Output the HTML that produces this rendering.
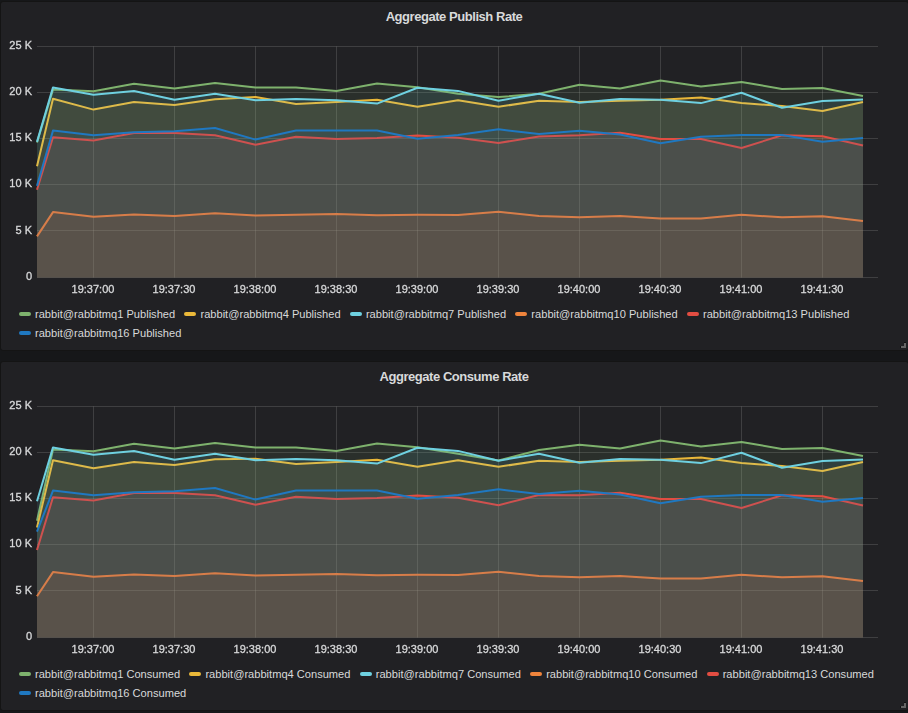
<!DOCTYPE html>
<html><head><meta charset="utf-8"><style>
html,body{margin:0;padding:0;background:#161719;width:908px;height:713px;overflow:hidden;font-family:"Liberation Sans",sans-serif;}
.panel{position:absolute;left:0;width:909px;height:350px;box-sizing:border-box;border:1px solid #141414;background:#212124;border-radius:3px;}
.title{position:absolute;left:0;width:908px;text-align:center;font:bold 13px "Liberation Sans",sans-serif;letter-spacing:-0.45px;color:#d8d9da;}
.yl{will-change:transform;-webkit-text-stroke:0.3px #d8d9da;position:absolute;left:0;width:32px;text-align:right;font-size:11px;line-height:14px;color:#d8d9da;white-space:nowrap;}
.xl{will-change:transform;-webkit-text-stroke:0.3px #d8d9da;position:absolute;width:60px;text-align:center;font-size:11px;line-height:14px;color:#d8d9da;}
.leg{position:absolute;left:19px;font-size:11.1px;line-height:16px;color:#d8d9da;white-space:nowrap;}
.li{display:inline-block;margin-right:9.3px;}
.li i{display:inline-block;width:12px;height:4px;border-radius:2px;margin-right:4px;vertical-align:middle;position:relative;top:-1px;}
.hd{position:absolute;left:901px;width:5px;height:5px;}
svg{position:absolute;left:0;top:0;}
</style></head><body>
<div class="panel" style="top:1px"></div>
<div class="panel" style="top:361px"></div>
<div class="title" style="top:9px">Aggregate Publish Rate</div>
<div class="title" style="top:369px">Aggregate Consume Rate</div>
<svg width="908" height="713" viewBox="0 0 908 713">
<path d="M37 46.5H878 M37 92.5H878 M37 138.5H878 M37 184.5H878 M37 230.5H878 M37 277.5H878 M93.5 46.5V277.5 M174.5 46.5V277.5 M255.5 46.5V277.5 M336.5 46.5V277.5 M417.5 46.5V277.5 M498.5 46.5V277.5 M579.5 46.5V277.5 M660.5 46.5V277.5 M741.5 46.5V277.5 M822.5 46.5V277.5" stroke="rgba(200,200,200,0.18)" stroke-width="1" fill="none"/>
<path d="M37,277.5 L37.0,142.5 53.0,89.6 93.5,91.3 134.0,83.8 174.5,88.5 215.0,82.9 255.5,87.4 296.0,87.4 336.5,90.9 377.0,83.4 417.5,87.2 458.0,93.7 498.5,97.1 539.0,93.7 579.5,84.7 620.0,88.5 660.5,80.6 701.0,86.6 741.5,81.9 782.0,89.0 822.5,88.1 863.0,96.1 L863.0,277.5 Z" fill="#7EB26D" fill-opacity="0.1"/>
<polyline points="37.0,142.5 53.0,89.6 93.5,91.3 134.0,83.8 174.5,88.5 215.0,82.9 255.5,87.4 296.0,87.4 336.5,90.9 377.0,83.4 417.5,87.2 458.0,93.7 498.5,97.1 539.0,93.7 579.5,84.7 620.0,88.5 660.5,80.6 701.0,86.6 741.5,81.9 782.0,89.0 822.5,88.1 863.0,96.1" fill="none" stroke="#7EB26D" stroke-width="2" stroke-linejoin="round"/>
<path d="M37,277.5 L37.0,166.2 53.0,98.8 93.5,109.6 134.0,102.1 174.5,105.0 215.0,99.3 255.5,96.9 296.0,104.0 336.5,102.1 377.0,99.7 417.5,106.8 458.0,100.3 498.5,106.8 539.0,100.7 579.5,102.1 620.0,100.8 660.5,99.7 701.0,97.5 741.5,103.1 782.0,105.9 822.5,110.9 863.0,101.9 L863.0,277.5 Z" fill="#EAB839" fill-opacity="0.1"/>
<polyline points="37.0,166.2 53.0,98.8 93.5,109.6 134.0,102.1 174.5,105.0 215.0,99.3 255.5,96.9 296.0,104.0 336.5,102.1 377.0,99.7 417.5,106.8 458.0,100.3 498.5,106.8 539.0,100.7 579.5,102.1 620.0,100.8 660.5,99.7 701.0,97.5 741.5,103.1 782.0,105.9 822.5,110.9 863.0,101.9" fill="none" stroke="#EAB839" stroke-width="2" stroke-linejoin="round"/>
<path d="M37,277.5 L37.0,141.9 53.0,87.4 93.5,94.7 134.0,90.9 174.5,99.7 215.0,93.7 255.5,100.3 296.0,99.0 336.5,100.3 377.0,103.6 417.5,87.7 458.0,90.9 498.5,100.7 539.0,93.7 579.5,102.7 620.0,99.0 660.5,99.7 701.0,103.1 741.5,92.8 782.0,107.8 822.5,101.0 863.0,99.5 L863.0,277.5 Z" fill="#6ED0E0" fill-opacity="0.1"/>
<polyline points="37.0,141.9 53.0,87.4 93.5,94.7 134.0,90.9 174.5,99.7 215.0,93.7 255.5,100.3 296.0,99.0 336.5,100.3 377.0,103.6 417.5,87.7 458.0,90.9 498.5,100.7 539.0,93.7 579.5,102.7 620.0,99.0 660.5,99.7 701.0,103.1 741.5,92.8 782.0,107.8 822.5,101.0 863.0,99.5" fill="none" stroke="#6ED0E0" stroke-width="2" stroke-linejoin="round"/>
<path d="M37,277.5 L37.0,236.4 53.0,212.1 93.5,216.7 134.0,214.5 174.5,215.9 215.0,213.2 255.5,215.6 296.0,214.8 336.5,213.9 377.0,215.2 417.5,214.8 458.0,215.0 498.5,211.7 539.0,215.9 579.5,217.2 620.0,216.1 660.5,218.5 701.0,218.5 741.5,214.8 782.0,217.2 822.5,216.3 863.0,221.1 L863.0,277.5 Z" fill="#EF843C" fill-opacity="0.1"/>
<polyline points="37.0,236.4 53.0,212.1 93.5,216.7 134.0,214.5 174.5,215.9 215.0,213.2 255.5,215.6 296.0,214.8 336.5,213.9 377.0,215.2 417.5,214.8 458.0,215.0 498.5,211.7 539.0,215.9 579.5,217.2 620.0,216.1 660.5,218.5 701.0,218.5 741.5,214.8 782.0,217.2 822.5,216.3 863.0,221.1" fill="none" stroke="#EF843C" stroke-width="2" stroke-linejoin="round"/>
<path d="M37,277.5 L37.0,189.8 53.0,137.3 93.5,140.5 134.0,133.0 174.5,133.0 215.0,135.3 255.5,144.8 296.0,136.8 336.5,139.0 377.0,138.1 417.5,135.5 458.0,137.7 498.5,143.0 539.0,136.4 579.5,135.3 620.0,132.7 660.5,139.0 701.0,139.0 741.5,148.0 782.0,135.3 822.5,136.2 863.0,145.5 L863.0,277.5 Z" fill="#E24D42" fill-opacity="0.1"/>
<polyline points="37.0,189.8 53.0,137.3 93.5,140.5 134.0,133.0 174.5,133.0 215.0,135.3 255.5,144.8 296.0,136.8 336.5,139.0 377.0,138.1 417.5,135.5 458.0,137.7 498.5,143.0 539.0,136.4 579.5,135.3 620.0,132.7 660.5,139.0 701.0,139.0 741.5,148.0 782.0,135.3 822.5,136.2 863.0,145.5" fill="none" stroke="#E24D42" stroke-width="2" stroke-linejoin="round"/>
<path d="M37,277.5 L37.0,185.9 53.0,130.6 93.5,135.3 134.0,132.3 174.5,131.2 215.0,128.0 255.5,139.6 296.0,130.4 336.5,130.4 377.0,130.4 417.5,138.7 458.0,134.9 498.5,129.3 539.0,134.0 579.5,130.8 620.0,134.5 660.5,143.3 701.0,136.8 741.5,134.9 782.0,134.9 822.5,141.8 863.0,138.1 L863.0,277.5 Z" fill="#1F78C1" fill-opacity="0.1"/>
<polyline points="37.0,185.9 53.0,130.6 93.5,135.3 134.0,132.3 174.5,131.2 215.0,128.0 255.5,139.6 296.0,130.4 336.5,130.4 377.0,130.4 417.5,138.7 458.0,134.9 498.5,129.3 539.0,134.0 579.5,130.8 620.0,134.5 660.5,143.3 701.0,136.8 741.5,134.9 782.0,134.9 822.5,141.8 863.0,138.1" fill="none" stroke="#1F78C1" stroke-width="2" stroke-linejoin="round"/>
<path d="M37 406.5H878 M37 452.5H878 M37 498.5H878 M37 544.5H878 M37 590.5H878 M37 637.5H878 M93.5 406.5V637.5 M174.5 406.5V637.5 M255.5 406.5V637.5 M336.5 406.5V637.5 M417.5 406.5V637.5 M498.5 406.5V637.5 M579.5 406.5V637.5 M660.5 406.5V637.5 M741.5 406.5V637.5 M822.5 406.5V637.5" stroke="rgba(200,200,200,0.18)" stroke-width="1" fill="none"/>
<path d="M37,637.5 L37.0,520.7 53.0,449.6 93.5,451.3 134.0,443.8 174.5,448.5 215.0,442.9 255.5,447.4 296.0,447.4 336.5,450.9 377.0,443.4 417.5,447.2 458.0,453.7 498.5,460.5 539.0,450.0 579.5,444.7 620.0,448.5 660.5,440.6 701.0,446.6 741.5,441.9 782.0,449.0 822.5,448.1 863.0,456.1 L863.0,637.5 Z" fill="#7EB26D" fill-opacity="0.1"/>
<polyline points="37.0,520.7 53.0,449.6 93.5,451.3 134.0,443.8 174.5,448.5 215.0,442.9 255.5,447.4 296.0,447.4 336.5,450.9 377.0,443.4 417.5,447.2 458.0,453.7 498.5,460.5 539.0,450.0 579.5,444.7 620.0,448.5 660.5,440.6 701.0,446.6 741.5,441.9 782.0,449.0 822.5,448.1 863.0,456.1" fill="none" stroke="#7EB26D" stroke-width="2" stroke-linejoin="round"/>
<path d="M37,637.5 L37.0,527.4 53.0,460.3 93.5,468.3 134.0,462.1 174.5,465.0 215.0,459.3 255.5,458.8 296.0,464.0 336.5,462.1 377.0,459.7 417.5,466.8 458.0,460.3 498.5,466.8 539.0,460.7 579.5,462.1 620.0,460.8 660.5,459.7 701.0,457.5 741.5,463.1 782.0,465.9 822.5,470.9 863.0,461.9 L863.0,637.5 Z" fill="#EAB839" fill-opacity="0.1"/>
<polyline points="37.0,527.4 53.0,460.3 93.5,468.3 134.0,462.1 174.5,465.0 215.0,459.3 255.5,458.8 296.0,464.0 336.5,462.1 377.0,459.7 417.5,466.8 458.0,460.3 498.5,466.8 539.0,460.7 579.5,462.1 620.0,460.8 660.5,459.7 701.0,457.5 741.5,463.1 782.0,465.9 822.5,470.9 863.0,461.9" fill="none" stroke="#EAB839" stroke-width="2" stroke-linejoin="round"/>
<path d="M37,637.5 L37.0,501.3 53.0,447.4 93.5,454.7 134.0,450.9 174.5,459.7 215.0,453.7 255.5,460.3 296.0,459.0 336.5,460.3 377.0,463.6 417.5,447.7 458.0,450.9 498.5,460.7 539.0,453.7 579.5,462.7 620.0,459.0 660.5,459.7 701.0,463.1 741.5,452.8 782.0,467.8 822.5,461.0 863.0,459.5 L863.0,637.5 Z" fill="#6ED0E0" fill-opacity="0.1"/>
<polyline points="37.0,501.3 53.0,447.4 93.5,454.7 134.0,450.9 174.5,459.7 215.0,453.7 255.5,460.3 296.0,459.0 336.5,460.3 377.0,463.6 417.5,447.7 458.0,450.9 498.5,460.7 539.0,453.7 579.5,462.7 620.0,459.0 660.5,459.7 701.0,463.1 741.5,452.8 782.0,467.8 822.5,461.0 863.0,459.5" fill="none" stroke="#6ED0E0" stroke-width="2" stroke-linejoin="round"/>
<path d="M37,637.5 L37.0,596.2 53.0,572.1 93.5,576.7 134.0,574.5 174.5,575.9 215.0,573.2 255.5,575.6 296.0,574.8 336.5,573.9 377.0,575.2 417.5,574.8 458.0,575.0 498.5,571.7 539.0,575.9 579.5,577.2 620.0,576.1 660.5,578.5 701.0,578.5 741.5,574.8 782.0,577.2 822.5,576.3 863.0,581.1 L863.0,637.5 Z" fill="#EF843C" fill-opacity="0.1"/>
<polyline points="37.0,596.2 53.0,572.1 93.5,576.7 134.0,574.5 174.5,575.9 215.0,573.2 255.5,575.6 296.0,574.8 336.5,573.9 377.0,575.2 417.5,574.8 458.0,575.0 498.5,571.7 539.0,575.9 579.5,577.2 620.0,576.1 660.5,578.5 701.0,578.5 741.5,574.8 782.0,577.2 822.5,576.3 863.0,581.1" fill="none" stroke="#EF843C" stroke-width="2" stroke-linejoin="round"/>
<path d="M37,637.5 L37.0,550.0 53.0,497.3 93.5,500.5 134.0,493.0 174.5,493.0 215.0,495.3 255.5,504.8 296.0,496.8 336.5,499.0 377.0,498.1 417.5,495.5 458.0,497.7 498.5,505.2 539.0,495.0 579.5,495.3 620.0,492.7 660.5,499.0 701.0,499.0 741.5,508.0 782.0,495.3 822.5,496.2 863.0,505.5 L863.0,637.5 Z" fill="#E24D42" fill-opacity="0.1"/>
<polyline points="37.0,550.0 53.0,497.3 93.5,500.5 134.0,493.0 174.5,493.0 215.0,495.3 255.5,504.8 296.0,496.8 336.5,499.0 377.0,498.1 417.5,495.5 458.0,497.7 498.5,505.2 539.0,495.0 579.5,495.3 620.0,492.7 660.5,499.0 701.0,499.0 741.5,508.0 782.0,495.3 822.5,496.2 863.0,505.5" fill="none" stroke="#E24D42" stroke-width="2" stroke-linejoin="round"/>
<path d="M37,637.5 L37.0,531.6 53.0,490.6 93.5,495.3 134.0,492.3 174.5,491.2 215.0,488.0 255.5,499.6 296.0,490.4 336.5,490.4 377.0,490.4 417.5,498.7 458.0,494.9 498.5,489.3 539.0,494.0 579.5,490.8 620.0,494.5 660.5,503.3 701.0,496.8 741.5,494.9 782.0,494.9 822.5,501.8 863.0,498.1 L863.0,637.5 Z" fill="#1F78C1" fill-opacity="0.1"/>
<polyline points="37.0,531.6 53.0,490.6 93.5,495.3 134.0,492.3 174.5,491.2 215.0,488.0 255.5,499.6 296.0,490.4 336.5,490.4 377.0,490.4 417.5,498.7 458.0,494.9 498.5,489.3 539.0,494.0 579.5,490.8 620.0,494.5 660.5,503.3 701.0,496.8 741.5,494.9 782.0,494.9 822.5,501.8 863.0,498.1" fill="none" stroke="#1F78C1" stroke-width="2" stroke-linejoin="round"/>
<path d="M904 342h2v1h-2zM900 346h1v2h-1z" fill="#111"/>
<path d="M904 702h2v1h-2zM900 706h1v2h-1z" fill="#111"/>
<path d="M906 343V348H901V346H904V343Z" fill="#666"/>
<path d="M906 703V708H901V706H904V703Z" fill="#666"/>
</svg>
<div class="yl" style="top:37.7px">25 K</div>
<div class="yl" style="top:83.9px">20 K</div>
<div class="yl" style="top:130.1px">15 K</div>
<div class="yl" style="top:176.3px">10 K</div>
<div class="yl" style="top:222.5px">5 K</div>
<div class="yl" style="top:268.7px">0</div>
<div class="yl" style="top:397.7px">25 K</div>
<div class="yl" style="top:443.9px">20 K</div>
<div class="yl" style="top:490.1px">15 K</div>
<div class="yl" style="top:536.3px">10 K</div>
<div class="yl" style="top:582.5px">5 K</div>
<div class="yl" style="top:628.7px">0</div>
<div class="xl" style="left:63.4px;top:281.9px">19:37:00</div>
<div class="xl" style="left:144.4px;top:281.9px">19:37:30</div>
<div class="xl" style="left:225.4px;top:281.9px">19:38:00</div>
<div class="xl" style="left:306.4px;top:281.9px">19:38:30</div>
<div class="xl" style="left:387.4px;top:281.9px">19:39:00</div>
<div class="xl" style="left:468.4px;top:281.9px">19:39:30</div>
<div class="xl" style="left:549.4px;top:281.9px">19:40:00</div>
<div class="xl" style="left:630.4px;top:281.9px">19:40:30</div>
<div class="xl" style="left:711.4px;top:281.9px">19:41:00</div>
<div class="xl" style="left:792.4px;top:281.9px">19:41:30</div>
<div class="xl" style="left:63.4px;top:641.9px">19:37:00</div>
<div class="xl" style="left:144.4px;top:641.9px">19:37:30</div>
<div class="xl" style="left:225.4px;top:641.9px">19:38:00</div>
<div class="xl" style="left:306.4px;top:641.9px">19:38:30</div>
<div class="xl" style="left:387.4px;top:641.9px">19:39:00</div>
<div class="xl" style="left:468.4px;top:641.9px">19:39:30</div>
<div class="xl" style="left:549.4px;top:641.9px">19:40:00</div>
<div class="xl" style="left:630.4px;top:641.9px">19:40:30</div>
<div class="xl" style="left:711.4px;top:641.9px">19:41:00</div>
<div class="xl" style="left:792.4px;top:641.9px">19:41:30</div>
<div class="leg" style="top:306px"><span class="li"><i style="background:#7EB26D"></i>rabbit@rabbitmq1 Published</span><span class="li"><i style="background:#EAB839"></i>rabbit@rabbitmq4 Published</span><span class="li"><i style="background:#6ED0E0"></i>rabbit@rabbitmq7 Published</span><span class="li"><i style="background:#EF843C"></i>rabbit@rabbitmq10 Published</span><span class="li"><i style="background:#E24D42"></i>rabbit@rabbitmq13 Published</span></div><div class="leg" style="top:325px"><span class="li"><i style="background:#1F78C1"></i>rabbit@rabbitmq16 Published</span></div>
<div class="leg" style="top:666px"><span class="li"><i style="background:#7EB26D"></i>rabbit@rabbitmq1 Consumed</span><span class="li"><i style="background:#EAB839"></i>rabbit@rabbitmq4 Consumed</span><span class="li"><i style="background:#6ED0E0"></i>rabbit@rabbitmq7 Consumed</span><span class="li"><i style="background:#EF843C"></i>rabbit@rabbitmq10 Consumed</span><span class="li"><i style="background:#E24D42"></i>rabbit@rabbitmq13 Consumed</span></div><div class="leg" style="top:685px"><span class="li"><i style="background:#1F78C1"></i>rabbit@rabbitmq16 Consumed</span></div>
</body></html>
